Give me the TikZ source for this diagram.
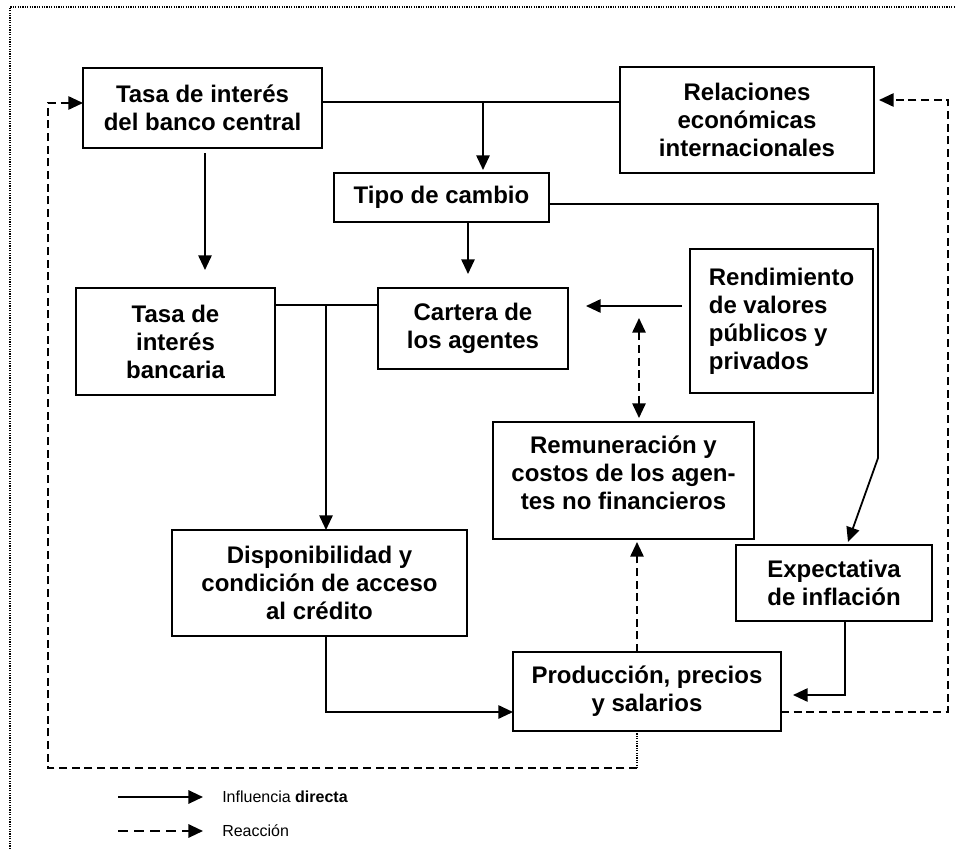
\documentclass[tikz,border=0pt]{standalone}
\usepackage{fontspec}
\setmainfont{Liberation Sans}
\usepackage{tikz}
\usetikzlibrary{arrows.meta}
\usetikzlibrary{calc,positioning}

\tikzset{
    box/.style={draw, line width=1.6pt, inner sep=0pt, outer sep=0pt, align=center,
        font=\fontsize{18}{21}\selectfont\bfseries},
    conn/.style={line width=1.35pt},
    tip/.style={-{Triangle[length=11pt,width=10pt]}},
    arr/.style={conn, tip},
    dasharr/.style={arr, dash pattern=on 6pt off 3.5pt},
    dotline/.style={line width=0.9pt, dash pattern=on 0.9pt off 0.9pt},
    legtext/.style={font=\fontsize{12}{14}\selectfont, anchor=west, inner sep=0pt}
}

\begin{document}
\begin{tikzpicture}[x=0.75pt, y=-0.75pt]
        \useasboundingbox (0,0) rectangle (956,849);
        \draw[dotline] (10,849) -- (10,7) -- (956,7);

        \node[box, minimum width=179.25pt, minimum height=60pt] (central) at (202.5,108) {Tasa de interés\\del banco central};
        \node[box, minimum width=190.5pt, minimum height=79.5pt] (relaciones) at (747,120) {Relaciones\\económicas\\internacionales};
        \node[box, minimum width=161.25pt, minimum height=36.75pt] (tipo) at (441.5,197.5) {Tipo de cambio};
        \node[box, minimum width=149.25pt, minimum height=80.25pt] (bancaria) at (175.5,341.5) {Tasa de\\interés\\bancaria};
        \node[box, minimum width=142.5pt, minimum height=60.75pt] (cartera) at (473,328.5) {Cartera de\\los agentes};
        \node[box, align=left, minimum width=137.25pt, minimum height=108pt] (rendimiento) at (781.5,321) {Rendimiento\\de valores\\públicos y\\privados};
        \node[box, minimum width=195.75pt, minimum height=87.75pt] (remuneracion) at (623.5,480.5) {Remuneración y\\costos de los agen-\\tes no financieros\\[-10pt]~};
        \node[box, minimum width=221.25pt, minimum height=79.5pt] (disponibilidad) at (319.5,583) {Disponibilidad y\\condición de acceso\\al crédito};
        \node[box, minimum width=147pt, minimum height=57pt] (expectativa) at (834,583) {Expectativa\\de inflación};
        \node[box, minimum width=201pt, minimum height=59.25pt] (produccion) at (647,691.5) {Producción, precios\\y salarios};

        \coordinate (split) at (483,102);
        \coordinate (fork) at (326,305);
        \coordinate (bend) at (878,458);
        \coordinate (swap) at (639,318);
        \coordinate (reactR) at (948,100);
        \coordinate (reactB) at (637,768);
        \coordinate (reactL) at (48,103);

        \draw[arr] ($(central.south)+(2.5,5)$) -- ($(bancaria.north)+(29.5,-18)$);
        \draw[conn] ($(central.east)+(0,-6)$) -- ($(relaciones.west)+(0,-18)$);
        \draw[arr] (split) -- ($(tipo.north)+(41.5,-3)$);
        \draw[arr] ($(tipo.east)+(0,6.5)$) -| (bend) -- ($(expectativa.north)+(14,-3)$);
        \draw[arr] ($(tipo.south)+(26.5,1)$) -- ($(cartera.north)+(-5,-14)$);
        \draw[conn] ($(bancaria.east)+(0,-36.5)$) -- ($(cartera.west)+(0,-23.5)$);
        \draw[arr] (fork) -- ($(disponibilidad.north)+(6.5,0)$);
        \draw[arr] ($(rendimiento.west)+(-8,-15)$) -- ($(cartera.east)+(18,-22.5)$);
        \draw[dasharr, {Triangle[length=11pt,width=10pt]}-{Triangle[length=11pt,width=10pt]}] (swap) -- ($(remuneracion.north)+(15.5,-4)$);
        \draw[dasharr] ($(produccion.north)+(-10,0)$) -- ($(remuneracion.south)+(13.5,3)$);
        \draw[arr] ($(disponibilidad.south)+(6.5,0)$) |- ($(produccion.west)+(0,20.5)$);
        \draw[arr] ($(expectativa.south)+(11,0)$) |- ($(produccion.east)+(12,3.5)$);
        \draw[dasharr] ($(produccion.east)+(0,20.5)$) -| (reactR) -- ($(relaciones.east)+(5,-20)$);
        \draw[dotline] ($(produccion.south)+(-10,0)$) -- (reactB);
        \draw[dasharr] (reactB) -| (reactL) -- ($(central.west)+(0,-5)$);

        \node[legtext] (legsolid) at (222,797) {Influencia \textbf{directa}};
        \node[legtext] (legdash) at (222,831) {Reacción};
        \coordinate (legA) at (118,797);
        \coordinate (legB) at (118,831);
        \draw[arr, line width=1.6pt] (legA) -- ($(legsolid.west)+(-19,0)$);
        \draw[arr, line width=1.6pt, dash pattern=on 7.5pt off 4.5pt] (legB) -- ($(legdash.west)+(-19,0)$);
\end{tikzpicture}
\end{document}
